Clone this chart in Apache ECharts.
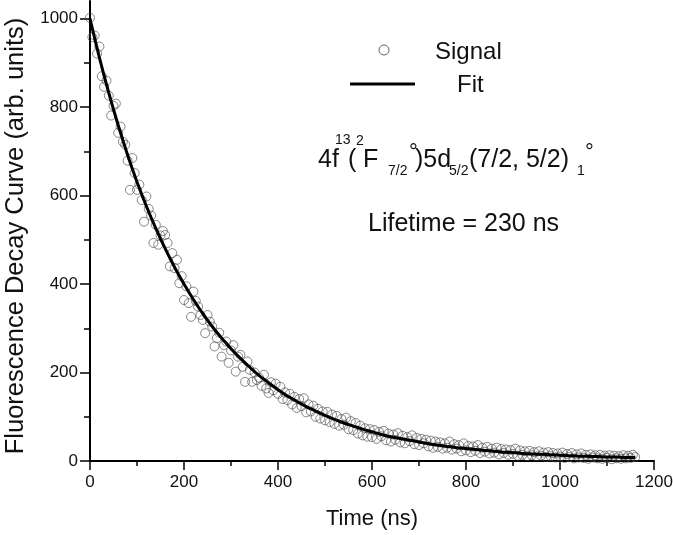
<!DOCTYPE html>
<html><head><meta charset="utf-8">
<script src="https://cdn.jsdelivr.net/npm/echarts@6/dist/echarts.min.js"></script>
<style>html,body{margin:0;padding:0;background:#fff}#c{width:673px;height:535px}</style>
</head><body><div id="c"></div>
<script>
// ---- data ----
const signalTime = [0,5,10,15,20,25,30,35,40,45,50,55,60,65,70,75,80,85,90,95,
100,105,110,115,120,125,130,135,140,145,150,155,160,165,170,175,180,185,190,195,
200,205,210,215,220,225,230,235,240,245,250,255,260,265,270,275,280,285,290,295,
300,305,310,315,320,325,330,335,340,345,350,355,360,365,370,375,380,385,390,395,
400,405,410,415,420,425,430,435,440,445,450,455,460,465,470,475,480,485,490,495,
500,505,510,515,520,525,530,535,540,545,550,555,560,565,570,575,580,585,590,595,
600,605,610,615,620,625,630,635,640,645,650,655,660,665,670,675,680,685,690,695,
700,705,710,715,720,725,730,735,740,745,750,755,760,765,770,775,780,785,790,795,
800,805,810,815,820,825,830,835,840,845,850,855,860,865,870,875,880,885,890,895,
900,905,910,915,920,925,930,935,940,945,950,955,960,965,970,975,980,985,990,995,
1000,1005,1010,1015,1020,1025,1030,1035,1040,1045,1050,1055,1060,1065,1070,1075,1080,1085,1090,1095,
1100,1105,1110,1115,1120,1125,1130,1135,1140,1145,1150,1155,1160];
const signalValue = [1002,958,962,921,937,870,846,860,826,781,803,808,742,756,722,715,679,613,685,651,
613,625,590,541,598,570,555,493,534,489,510,520,511,493,440,470,436,455,402,418,
364,395,357,326,383,362,349,330,319,289,330,315,304,259,278,290,236,262,270,222,
250,262,202,236,240,213,179,225,206,179,200,183,188,170,195,164,154,178,160,175,
152,168,140,155,138,152,128,145,120,140,124,142,110,128,112,125,100,118,96,112,
92,111,88,105,84,102,80,95,82,98,72,90,70,86,62,80,58,74,55,72,
54,70,50,66,56,68,47,62,44,60,48,63,42,57,40,54,45,58,38,52,
36,50,40,48,33,46,30,44,32,42,28,40,30,44,26,38,28,36,22,40,
24,34,20,33,23,36,18,30,21,32,17,28,19,30,15,27,18,26,14,25,
16,28,12,24,14,22,11,23,13,20,10,22,12,19,9,20,11,18,8,17,
10,19,7,16,9,18,6,15,8,17,7,14,5,15,8,13,6,14,5,12,
7,13,4,12,6,11,5,13,6,12,7,14,9];
const fitTime = [0,20,40,60,80,100,120,140,160,180,200,220,240,260,280,300,320,340,360,380,
400,420,440,460,480,500,520,540,560,580,600,620,640,660,680,700,720,740,760,780,
800,820,840,860,880,900,920,940,960,980,1000,1020,1040,1060,1080,1100,1120,1140,1160];
const fitValue = [1000,912,832,759,692,631,576,526,480,438,400,365,333,304,278,254,232,212,193,177,
161,147,135,123,113,103,94,86,79,72,66,60,55,51,47,43,39,36,33,30,
28,26,24,22,20,19,17,16,15,14,13,12,11,10.5,10,9,9,8,8];
const yMajorTicks = [0,200,400,600,800,1000];
const yMinorTicks = [100,300,500,700,900];
const legendLabels = ['Signal','Fit'];
const lifetimeText = 'Lifetime = 230 ns';

const FONT = '"Liberation Sans", Arial, sans-serif';
const sig = signalTime.map((t,i)=>[t, signalValue[i]]);
const fit = fitTime.map((t,i)=>[t, fitValue[i]]);

const chart = echarts.init(document.getElementById('c'), null, {renderer:'canvas'});
// text placed by its baseline (approx: top = baseline - 0.82*size)
const txt = (text, x, base, size) => ({
  type:'text', z:10,
  style:{text:text, x:x, y:base - 0.82*size, fill:'#111', font: size+'px '+FONT, align:'left', verticalAlign:'top'}
});
const plain = v => String(v);

chart.setOption({
  animation:false,
  backgroundColor:'#ffffff',
  textStyle:{fontFamily:FONT},
  grid:{left:90, right:19, top:1, bottom:74, containLabel:false, outerBoundsMode:'none'},
  xAxis:{
    type:'value', min:0, max:1200, interval:200,
    axisLine:{show:true, lineStyle:{color:'#000', width:2}},
    axisTick:{show:true, length:9, lineStyle:{color:'#000', width:1.5}},
    minorTick:{show:true, splitNumber:2, length:5, lineStyle:{color:'#000', width:1.5}},
    axisLabel:{fontSize:17, color:'#111', margin:13, fontFamily:FONT, formatter:plain},
    splitLine:{show:false},
    name:'Time (ns)', nameLocation:'middle', nameGap:47,
    nameTextStyle:{fontSize:22, color:'#111', fontFamily:FONT}
  },
  yAxis:[{
    type:'value', min:0, max:1040,
    axisLine:{show:true, onZero:false, lineStyle:{color:'#000', width:2}},
    axisTick:{show:true, length:10, customValues:yMajorTicks, lineStyle:{color:'#000', width:1.5}},
    axisLabel:{fontSize:17, color:'#111', margin:12, customValues:yMajorTicks, fontFamily:FONT, formatter:plain},
    splitLine:{show:false},
    name:'Fluorescence Decay Curve (arb. units)', nameLocation:'middle', nameGap:59,
    nameTextStyle:{fontSize:25.5, color:'#111', fontFamily:FONT, padding:[0,10,0,0]}
  },{
    type:'value', min:0, max:1040, position:'left',
    axisLine:{show:false},
    axisTick:{show:true, length:6, customValues:yMinorTicks, lineStyle:{color:'#000', width:1.5}},
    axisLabel:{show:false},
    splitLine:{show:false}
  }],
  series:[{
    name:legendLabels[0], type:'scatter', data:sig, yAxisIndex:0,
    symbol:'circle', symbolSize:9,
    itemStyle:{color:'rgba(0,0,0,0)', borderColor:'#444', borderWidth:0.8},
    z:2
  },{
    name:legendLabels[1], type:'line', data:fit, yAxisIndex:0,
    showSymbol:false, symbol:'none', smooth:0.3,
    lineStyle:{color:'#000', width:3}, z:3
  }],
  graphic:[
    {type:'circle', z:10, shape:{cx:384, cy:50, r:5}, style:{fill:'none', stroke:'#555', lineWidth:0.9}},
    {type:'line', z:10, shape:{x1:350, y1:84, x2:415, y2:84}, style:{stroke:'#000', lineWidth:3}},
    txt(legendLabels[0], 435, 60, 24),
    txt(legendLabels[1], 457, 93, 24),
    txt('4f', 318, 168, 25),
    txt('13', 335, 145, 14),
    txt('(', 348, 168, 25),
    txt('2', 356, 146, 14),
    txt('F', 363, 168, 25),
    txt('7/2', 388, 176, 14),
    txt('°', 409, 160, 22),
    txt(')5d', 415, 168, 25),
    txt('5/2', 449, 176, 14),
    txt('(7/2, 5/2)', 469, 168, 25),
    txt('1', 577, 176, 14),
    txt('°', 585, 160, 22),
    txt(lifetimeText, 368, 232, 25)
  ]
});
</script>
</body></html>
